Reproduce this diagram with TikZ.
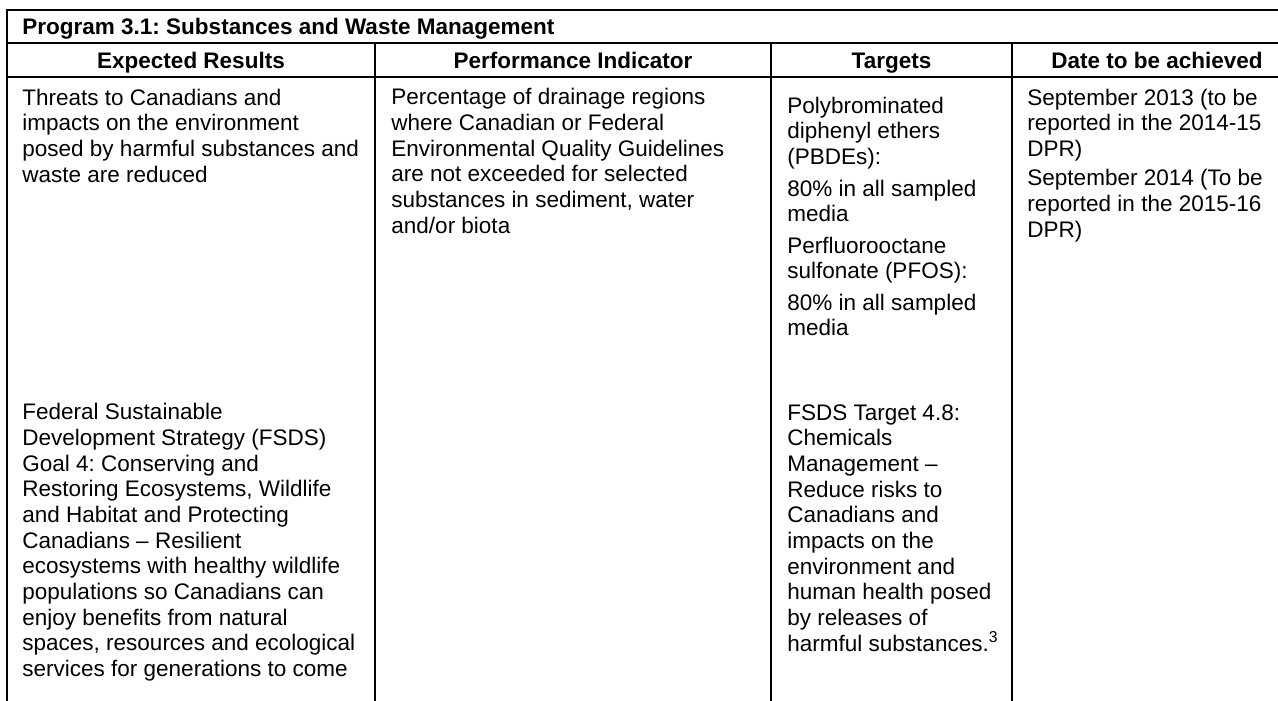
\documentclass[tikz,border=0pt]{standalone}
\usepackage{fontspec}
\setmainfont{Liberation Sans}
\frenchspacing
\begin{document}
\begin{tikzpicture}[x=0.4444pt,y=-0.4444pt,
   rule/.style={black,line width=0.75pt,line cap=rect},
   cell/.style={anchor=base west,inner sep=0pt,align=left,font=\fontsize{10}{11.4}\selectfont},
   headtext/.style={anchor=base,inner sep=0pt,font=\fontsize{10}{11.4}\selectfont\bfseries}]
   \useasboundingbox (0,0) rectangle (1278,700);
   % table rules
   \draw [rule] (7,720) -- (7,10) -- (1300,10);
   \draw [rule] (7,43) -- (1300,43);
   \draw [rule] (7,77) -- (1300,77);
   \foreach \xcol in {375,771,1012}
      \draw [rule] (\xcol,43) -- (\xcol,720);
   % title and headers
   \node [headtext,anchor=base west] (title) at (22,34) {Program 3.1: Substances and Waste Management};
   \node [headtext] (hresults) at (191,68) {Expected Results};
   \node [headtext] (hindicator) at (573,68) {Performance Indicator};
   \node [headtext] (htargets) at (891.5,68) {Targets};
   \node [headtext] (hdate) at (1157,68) {Date to be achieved};
   % expected results
   \node [cell] (result) at (22,182) {Threats to Canadians and\\impacts on the environment\\posed by harmful substances and\\waste are reduced};
   \node [cell] (goal) at (22,676.5) {Federal Sustainable\\Development Strategy (FSDS)\\Goal 4: Conserving and\\Restoring Ecosystems, Wildlife\\and Habitat and Protecting\\Canadians -- Resilient\\ecosystems with healthy wildlife\\populations so Canadians can\\enjoy benefits from natural\\spaces, resources and ecological\\services for generations to come};
   % performance indicator
   \node [cell] (indicator) at (391,233) {Percentage of drainage regions\\where Canadian or Federal\\Environmental Quality Guidelines\\are not exceeded for selected\\substances in sediment, water\\and/or biota};
   % targets
   \node [cell] (pbde) at (787,164.3) {Polybrominated\\diphenyl ethers\\(PBDEs):};
   \node [cell] (pbdeval) at (787,221.7) {80\% in all sampled\\media};
   \node [cell] (pfos) at (787,278.7) {Perfluorooctane\\sulfonate (PFOS):};
   \node [cell] (pfosval) at (787,335.7) {80\% in all sampled\\media};
   \node [cell] (fsds) at (787,651) {FSDS Target 4.8:\\Chemicals\\Management --\\Reduce risks to\\Canadians and\\impacts on the\\environment and\\human health posed\\by releases of\\harmful substances.\textsuperscript{3}};
   % dates
   \node [cell] (date13) at (1027,156.3) {September 2013 (to be\\reported in the 2014-15\\DPR)};
   \node [cell] (date14) at (1027,237) {September 2014 (To be\\reported in the 2015-16\\DPR)};
\end{tikzpicture}
\end{document}
